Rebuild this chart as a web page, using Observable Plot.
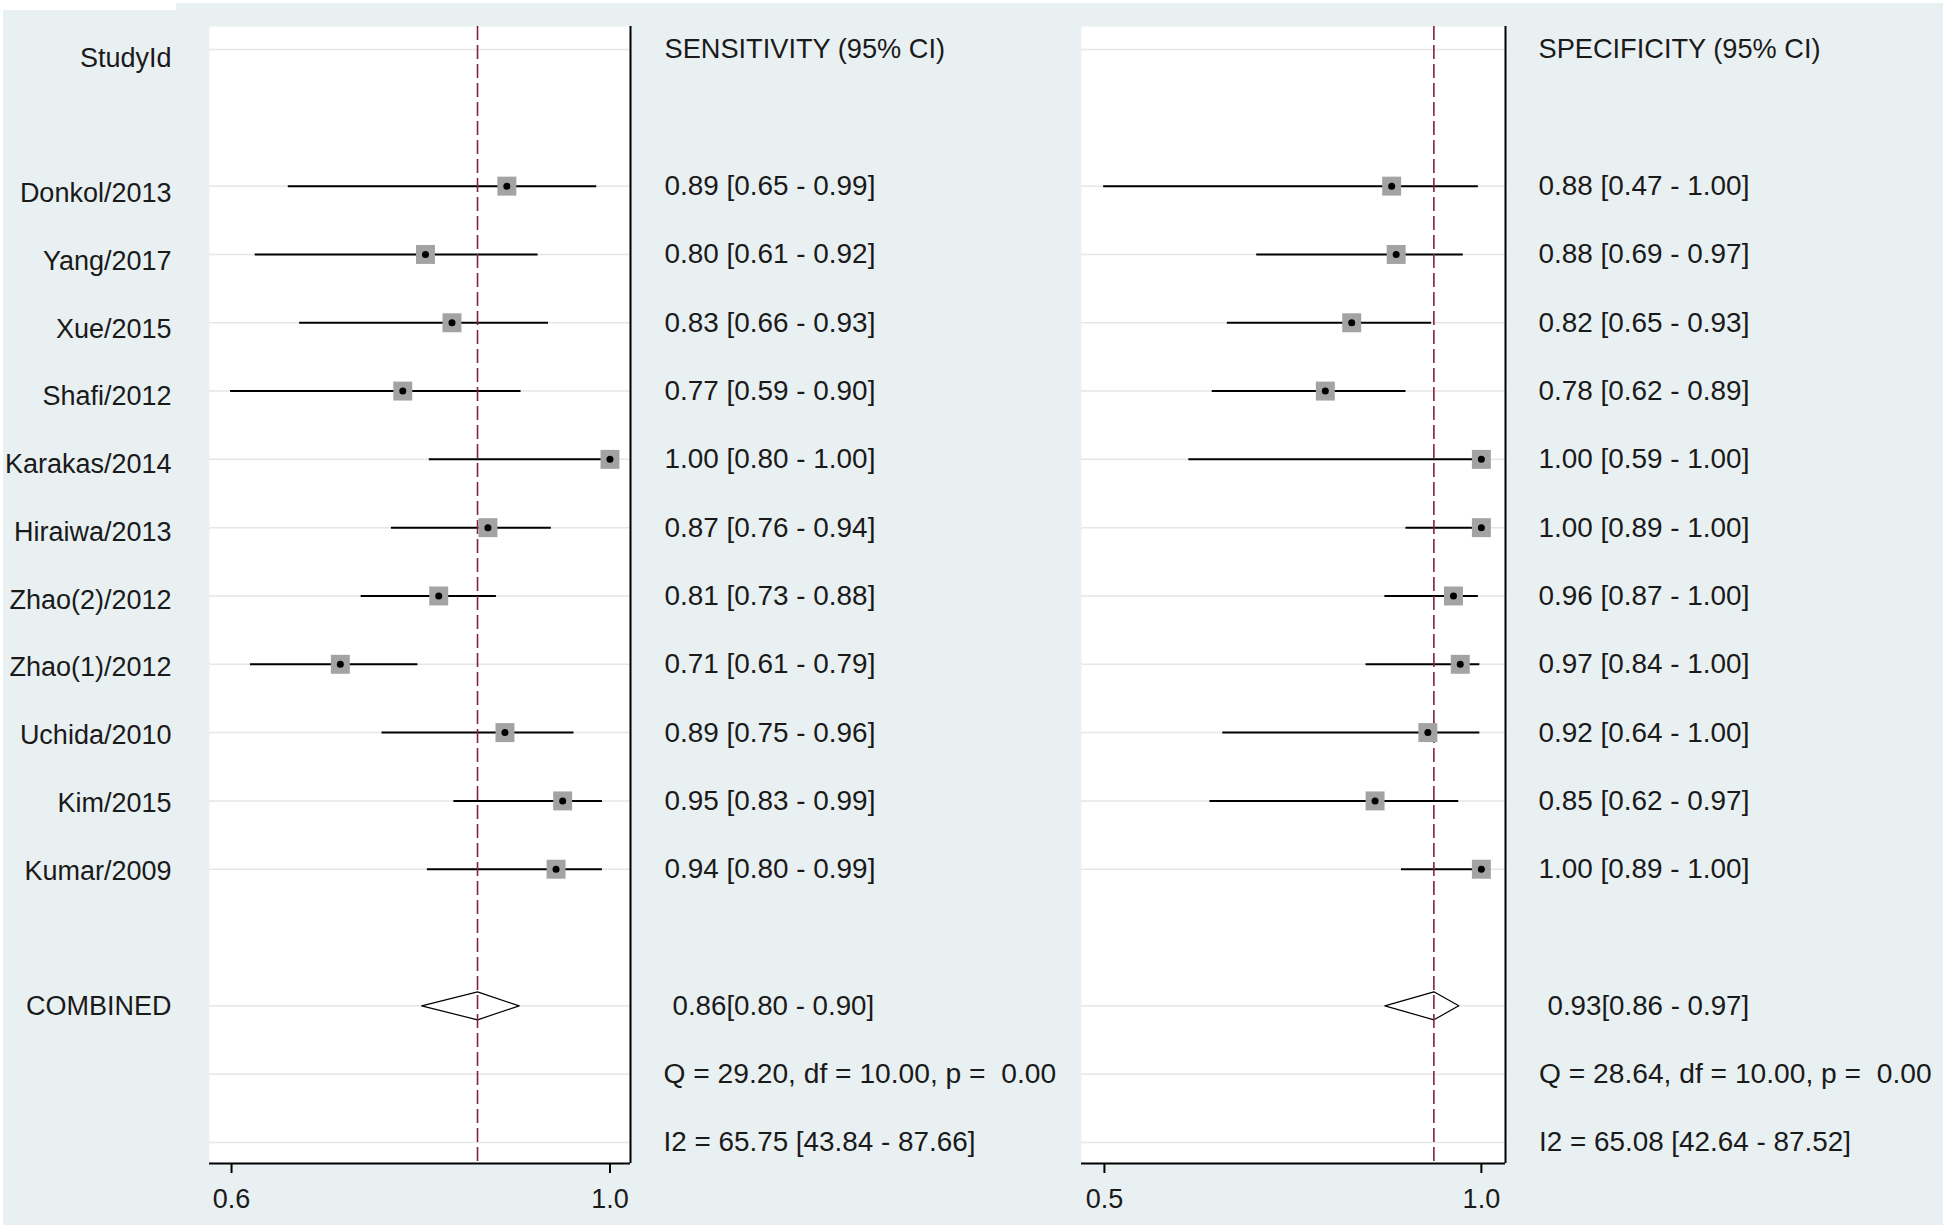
<!DOCTYPE html>
<html><head><meta charset="utf-8">
<script src="https://cdn.jsdelivr.net/npm/d3@7"></script>
<script src="https://cdn.jsdelivr.net/npm/@observablehq/plot@0.6"></script>
<style>
html,body{margin:0;padding:0;background:#fff;}
#wrap{position:relative;width:1946px;height:1228px;overflow:hidden;background:#fff;}
#bg{position:absolute;left:3px;top:3px;width:1940px;height:1222px;background:#e9f0f2;}
#notch{position:absolute;left:0;top:0;width:176px;height:10px;background:#fff;}
.panel{position:absolute;top:0;}
svg text{white-space:pre;}
</style></head><body>
<div id="wrap"><div id="bg"></div><div id="notch"></div>
<div id="p1" class="panel" style="left:0px"></div>
<div id="p2" class="panel" style="left:1060px"></div></div>
<script>
// ---- data ----
const studies = ["Donkol/2013","Yang/2017","Xue/2015","Shafi/2012","Karakas/2014","Hiraiwa/2013","Zhao(2)/2012","Zhao(1)/2012","Uchida/2010","Kim/2015","Kumar/2009"];

const sensEst = [0.891,0.805,0.833,0.781,1.000,0.871,0.819,0.715,0.889,0.950,0.943];
const sensLo  = [0.660,0.625,0.672,0.599,0.809,0.769,0.737,0.620,0.759,0.835,0.807];
const sensHi  = [0.986,0.924,0.935,0.906,1.000,0.938,0.880,0.797,0.962,0.992,0.992];
const sensText = ["0.89 [0.65 - 0.99]","0.80 [0.61 - 0.92]","0.83 [0.66 - 0.93]","0.77 [0.59 - 0.90]","1.00 [0.80 - 1.00]","0.87 [0.76 - 0.94]","0.81 [0.73 - 0.88]","0.71 [0.61 - 0.79]","0.89 [0.75 - 0.96]","0.95 [0.83 - 0.99]","0.94 [0.80 - 0.99]"];
const sensCombined = [0.860, 0.801, 0.904]; // est, lo, hi
const sensCombinedText = "0.86[0.80 - 0.90]";
const sensQText = "Q = 29.20, df = 10.00, p =  0.00";
const sensI2Text = "I2 = 65.75 [43.84 - 87.66]";
const sensHeader = "SENSITIVITY (95% CI)";
const sensTicks = [0.6, 1.0];
const sensDomain = [0.5767, 1.0217];

const specEst = [0.881,0.887,0.828,0.793,1.000,1.000,0.963,0.972,0.929,0.859,1.000];
const specLo  = [0.499,0.702,0.663,0.643,0.612,0.900,0.872,0.847,0.657,0.640,0.894];
const specHi  = [0.996,0.976,0.934,0.900,1.000,1.000,0.996,0.998,0.998,0.970,1.000];
const specText = ["0.88 [0.47 - 1.00]","0.88 [0.69 - 0.97]","0.82 [0.65 - 0.93]","0.78 [0.62 - 0.89]","1.00 [0.59 - 1.00]","1.00 [0.89 - 1.00]","0.96 [0.87 - 1.00]","0.97 [0.84 - 1.00]","0.92 [0.64 - 1.00]","0.85 [0.62 - 0.97]","1.00 [0.89 - 1.00]"];
const specCombined = [0.937, 0.872, 0.970];
const specCombinedText = "0.93[0.86 - 0.97]";
const specQText = "Q = 28.64, df = 10.00, p =  0.00";
const specI2Text = "I2 = 65.08 [42.64 - 87.52]";
const specHeader = "SPECIFICITY (95% CI)";
const specTicks = [0.5, 1.0];
const specDomain = [0.4696, 1.032];

const headerLabel = "StudyId";
const combinedLabel = "COMBINED";

// row layout (row index): header 0, studies 2..12, combined 14, Q 15, I2 16
const yDomain = [-0.337, 16.308];
const FONT = "Liberation Sans, Arial, Helvetica, sans-serif";

function panel(o) {
  const rows = studies.map((s, i) => ({name: s, row: i + 2, est: o.est[i], lo: o.lo[i], hi: o.hi[i], text: o.texts[i]}));
  const combRow = 14, qRow = 15, i2Row = 16;
  const h = 0.205;
  const [cEst, cLo, cHi] = o.comb;
  const diamond = [
    {x: cLo, y: combRow}, {x: cEst, y: combRow - h}, {x: cHi, y: combRow}, {x: cEst, y: combRow + h}, {x: cLo, y: combRow}
  ];
  const gridRows = [0, ...rows.map(d => d.row), combRow, qRow, i2Row];
  const colTexts = [
    {row: 0, text: o.header, dx: o.dx.header, fs: 27.2},
    ...rows.map(d => ({row: d.row, text: d.text, dx: o.dx.values, fs: 27.9})),
    {row: combRow, text: o.combText, dx: o.dx.comb, fs: 27.7},
    {row: qRow, text: o.qText, dx: o.dx.q, fs: 28.2},
    {row: i2Row, text: o.i2Text, dx: o.dx.q, fs: 27.85}
  ];
  const marks = [
    Plot.frame({fill: "white", stroke: "none"}),
    Plot.ruleY(gridRows, {y: d => d, stroke: "#e6e6e6", strokeWidth: 1.5}),
    Plot.ruleY(rows, {y: "row", x1: "lo", x2: "hi", stroke: "black", strokeWidth: 2}),
    Plot.line(diamond, {x: "x", y: "y", fill: "white", stroke: "black", strokeWidth: 1.2}),
    Plot.ruleX([cEst], {stroke: "#86203f", strokeWidth: 1.6, strokeDasharray: "14,5"}),
    Plot.dot(rows, {x: "est", y: "row", symbol: "square", r: 10.7, fill: "#a3a3a3", stroke: "none"}),
    Plot.dot(rows, {x: "est", y: "row", r: 3.5, fill: "black", stroke: "none"}),
    Plot.ruleX([o.domain[1]], {stroke: "black", strokeWidth: 2}),
    Plot.ruleY([yDomain[1]], {stroke: "black", strokeWidth: 2}),
    Plot.axisX({ticks: o.ticks, tickFormat: d3.format(".1f"), tickSize: 10, tickPadding: 15, stroke: "black", strokeWidth: 2, fontSize: 27, fill: "#1a1a1a"}),
    ...colTexts.map(t => Plot.text([t], {y: "row", text: "text", frameAnchor: "right", textAnchor: "start", dx: t.dx, fontSize: t.fs, fill: "#1a1a1a"}))
  ];
  if (o.showLabels) {
    const labels = [{row: 0, text: headerLabel}, ...rows.map(d => ({row: d.row, text: d.name})), {row: combRow, text: combinedLabel}];
    labels.forEach(l => marks.push(Plot.text([l], {y: "row", text: "text", frameAnchor: "left", textAnchor: "end", dx: -38, dy: 8.5 - 0.55 * l.row, fontSize: 27, fill: "#1a1a1a"})));
  }
  return Plot.plot({
    width: o.width, height: 1228,
    marginLeft: o.marginLeft, marginRight: o.marginRight, marginTop: 26, marginBottom: 65,
    x: {domain: o.domain},
    y: {domain: yDomain, reverse: true, axis: null},
    style: {background: "transparent", fontFamily: FONT, fontSize: "26.5px", color: "#1a1a1a", overflow: "visible"},
    marks
  });
}

document.getElementById("p1").append(panel({
  est: sensEst, lo: sensLo, hi: sensHi, texts: sensText, comb: sensCombined,
  combText: sensCombinedText, qText: sensQText, i2Text: sensI2Text, header: sensHeader,
  ticks: sensTicks, domain: sensDomain, showLabels: true,
  width: 1060, marginLeft: 209, marginRight: 430,
  dx: {header: 34, values: 34, comb: 42, q: 33}
}));
document.getElementById("p2").append(panel({
  est: specEst, lo: specLo, hi: specHi, texts: specText, comb: specCombined,
  combText: specCombinedText, qText: specQText, i2Text: specI2Text, header: specHeader,
  ticks: specTicks, domain: specDomain, showLabels: false,
  width: 886, marginLeft: 21, marginRight: 441,
  dx: {header: 33, values: 33, comb: 42, q: 33.5}
}));
</script>
</body></html>
